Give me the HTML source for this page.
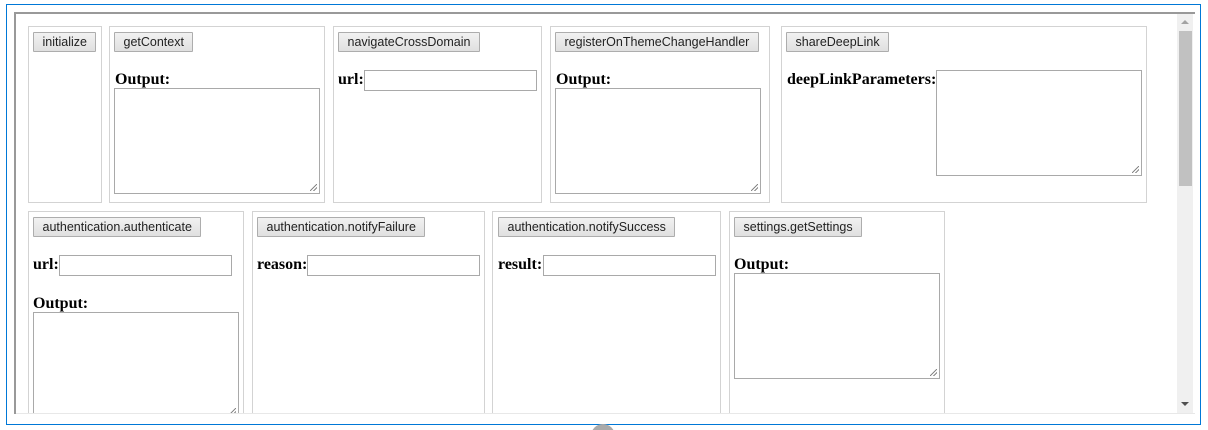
<!DOCTYPE html>
<html><head><meta charset="utf-8"><style>
*{box-sizing:border-box;margin:0;padding:0}
html,body{width:1208px;height:430px;overflow:hidden}
body{background:#fff;position:relative;font-family:"Liberation Sans",Arial,sans-serif}
.a{position:absolute}
.box{position:absolute;border:1px solid #d3d3d3;background:#fff}
.btn{position:absolute;height:20px;border:1px solid #adadad;background:linear-gradient(#f2f2f2,#e0e0e0);font-size:12.5px;line-height:18px;padding:0 8.5px;color:#222;white-space:nowrap;border-radius:1px}
.lb{position:absolute;font-family:"Liberation Serif",serif;font-weight:bold;font-size:16px;color:#000;line-height:16px}
.in{position:absolute;height:21px;border:1px solid #a9a9a9;background:#fff}
.ta{position:absolute;border:1px solid #a9a9a9;background:#fff}
.ta:after{content:"";position:absolute;right:2px;bottom:2px;width:7px;height:7px;background:linear-gradient(135deg,transparent 45%,#888 45%,#888 55%,transparent 55%,transparent 70%,#888 70%,#888 80%,transparent 80%)}
</style></head><body>
<div class="a" style="left:6px;top:4px;width:1195px;height:421px;border:1px solid #0078d7"></div>
<div class="a" style="left:14px;top:12px;width:1181px;height:402px;border-top:2px solid #999;border-left:2px solid #999;overflow:hidden">
<div class="a" style="left:0;bottom:0;width:1181px;height:1px;background:#e8e8e8"></div>
</div>
<div class="a" style="left:16px;top:14px;width:1161px;height:399px;overflow:hidden">
 <div style="position:absolute;left:-16px;top:-14px;width:1208px;height:430px">
  <div class="box" style="left:28px;top:26px;width:74px;height:177px"></div>
  <div class="btn" style="left:33px;top:32px">initialize</div>
  <div class="box" style="left:109px;top:26px;width:216px;height:177px"></div>
  <div class="btn" style="left:114px;top:32px">getContext</div>
  <div class="lb" style="left:115px;top:72px">Output:</div>
  <div class="ta" style="left:114px;top:88px;width:206px;height:106px"></div>
  <div class="box" style="left:333px;top:26px;width:209px;height:177px"></div>
  <div class="btn" style="left:338px;top:32px">navigateCrossDomain</div>
  <div class="lb" style="left:338px;top:72px">url:</div>
  <div class="in" style="left:364px;top:70px;width:173px"></div>
  <div class="box" style="left:550px;top:26px;width:220px;height:177px"></div>
  <div class="btn" style="left:555px;top:32px">registerOnThemeChangeHandler</div>
  <div class="lb" style="left:556px;top:72px">Output:</div>
  <div class="ta" style="left:555px;top:88px;width:206px;height:106px"></div>
  <div class="box" style="left:781px;top:26px;width:366px;height:177px"></div>
  <div class="btn" style="left:786px;top:32px">shareDeepLink</div>
  <div class="lb" style="left:787px;top:72px">deepLinkParameters:</div>
  <div class="ta" style="left:936px;top:70px;width:206px;height:106px"></div>
  <div class="box" style="left:28px;top:211px;width:216px;height:230px"></div>
  <div class="btn" style="left:33px;top:217px">authentication.authenticate</div>
  <div class="lb" style="left:33px;top:257px">url:</div>
  <div class="in" style="left:59px;top:255px;width:173px"></div>
  <div class="lb" style="left:33px;top:296px">Output:</div>
  <div class="ta" style="left:33px;top:312px;width:206px;height:106px"></div>
  <div class="box" style="left:252px;top:211px;width:233px;height:230px"></div>
  <div class="btn" style="left:257px;top:217px">authentication.notifyFailure</div>
  <div class="lb" style="left:257px;top:257px">reason:</div>
  <div class="in" style="left:307px;top:255px;width:173px"></div>
  <div class="box" style="left:492px;top:211px;width:229px;height:230px"></div>
  <div class="btn" style="left:498px;top:217px">authentication.notifySuccess</div>
  <div class="lb" style="left:498px;top:257px">result:</div>
  <div class="in" style="left:543px;top:255px;width:173px"></div>
  <div class="box" style="left:729px;top:211px;width:216px;height:230px"></div>
  <div class="btn" style="left:734px;top:217px">settings.getSettings</div>
  <div class="lb" style="left:734px;top:257px">Output:</div>
  <div class="ta" style="left:734px;top:273px;width:206px;height:106px"></div>
 </div>
</div>
<div class="a" style="left:1177px;top:14px;width:16px;height:399px;background:#f0f0f0"></div>
<div class="a" style="left:1179px;top:31px;width:13px;height:155px;background:#c1c1c1"></div>
<div class="a" style="left:1181px;top:20px;width:0;height:0;border-left:4px solid transparent;border-right:4px solid transparent;border-bottom:4px solid #a3a3a3"></div>
<div class="a" style="left:1181px;top:402px;width:0;height:0;border-left:4px solid transparent;border-right:4px solid transparent;border-top:4px solid #505050"></div>
<div class="a" style="left:591px;top:424px;width:24px;height:24px;border-radius:50%;background:#aaa"></div>
</body></html>
